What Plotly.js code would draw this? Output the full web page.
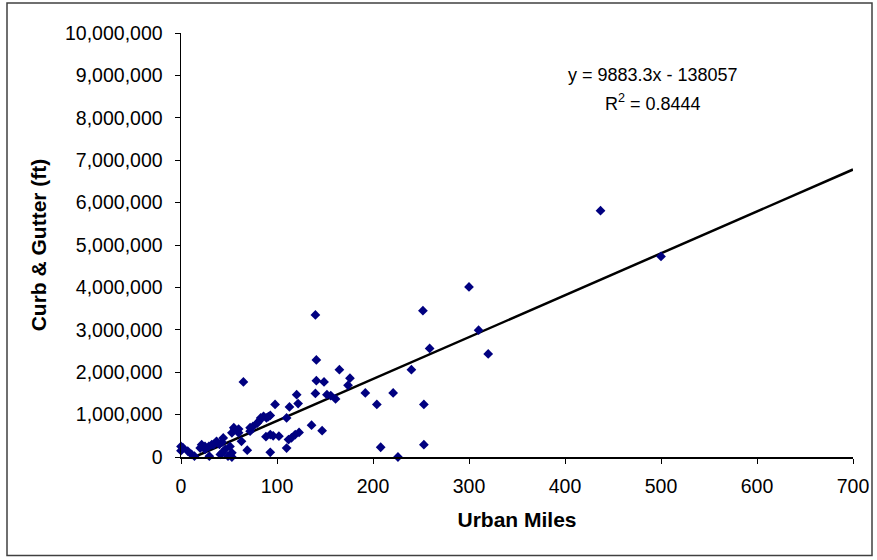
<!DOCTYPE html>
<html>
<head>
<meta charset="utf-8">
<script src="https://cdn.plot.ly/plotly-3.0.1.min.js"></script>
<style>
  html, body { margin: 0; padding: 0; background: #fff; }
  #chart { width: 877px; height: 560px; }
</style>
</head>
<body>
<div id="chart"></div>
<script>
// Urban miles (x) and Curb & Gutter in feet (y)
const urbanMiles = [
  0, 2, 0, 7, 11, 14, 20, 21.5, 25, 29.5,
  32, 37, 40, 44, 41, 46, 51, 49, 53, 53,
  56, 60, 63, 65, 69, 72, 75, 79.5, 83, 86,
  89, 93, 88.5, 93, 96, 102, 93, 98, 110, 113,
  120.5, 122, 110, 112, 115, 119, 123, 136, 147, 140,
  141, 165, 141, 149, 176, 174, 140, 152, 156, 161,
  192, 204, 221, 208, 226, 240, 252, 259, 253, 253,
  300, 310, 320, 437, 500,
  55, 60, 43, 53, 42.7, 29, 81, 72, 91, 25, 34
];
const curbGutterFt = [
  250000, 220000, 150000, 140000, 60000, 20000, 210000, 290000, 250000, 20000,
  290000, 370000, 300000, 450000, 60000, 180000, 250000, 20000, 0, 570000,
  650000, 660000, 370000, 1770000, 160000, 690000, 720000, 800000, 920000, 960000,
  920000, 980000, 480000, 530000, 500000, 490000, 110000, 1240000, 920000, 1180000,
  1470000, 1260000, 210000, 410000, 450000, 530000, 580000, 750000, 620000, 3350000,
  2290000, 2060000, 1800000, 1770000, 1860000, 1690000, 1500000, 1470000, 1450000, 1370000,
  1510000, 1240000, 1510000, 230000, 0, 2060000, 3450000, 2560000, 1240000, 290000,
  4010000, 2990000, 2430000, 5810000, 4730000,
  690000, 570000, 100000, 100000, 350000, 250000, 840000, 610000, 950000, 180000, 290000
];
// Linear trend shown on the chart
const trendSlope = 9883.3;
const trendIntercept = -138057;
const trendXStart = -trendIntercept / trendSlope;
const trendXEnd = 700;
const trendLabel = "y = 9883.3x - 138057";
const r2Label = "R<sup>2</sup> = 0.8444";

const xTitle = "Urban Miles";
const yTitle = "Curb & Gutter (ft)";

const trendX = [trendXStart, trendXEnd];
const trendY = trendX.map(v => trendSlope * v + trendIntercept);

const font = "Arial, 'Liberation Sans', sans-serif";

const data = [
  {
    type: "scatter", mode: "lines",
    x: trendX, y: trendY,
    line: { color: "#000000", width: 2.5 },
    hoverinfo: "skip", showlegend: false, cliponaxis: false
  },
  {
    type: "scatter", mode: "markers",
    x: urbanMiles, y: curbGutterFt,
    marker: { symbol: "diamond", size: 7.5, color: "#000080", line: { width: 0 } },
    showlegend: false, cliponaxis: false
  }
];

const layout = {
  width: 877, height: 560,
  margin: { l: 181, r: 24, t: 33, b: 102.5 },
  paper_bgcolor: "#ffffff", plot_bgcolor: "#ffffff",
  font: { family: font, size: 18, color: "#000000" },
  showlegend: false,
  xaxis: {
    range: [0, 700], dtick: 100, tick0: 0,
    showgrid: false, zeroline: false,
    showline: true, linecolor: "#000000", linewidth: 1.5,
    ticks: "outside", ticklen: 5, tickcolor: "#000000", tickwidth: 1,
    tickfont: { family: font, size: 19.5, color: "#000000" },
    ticklabelstandoff: 6,
    title: { text: "<b>" + xTitle + "</b>", font: { family: font, size: 21, color: "#000000" }, standoff: 16 }
  },
  yaxis: {
    range: [0, 10000000], dtick: 1000000, tick0: 0,
    tickformat: ",d",
    showgrid: false, zeroline: false,
    showline: true, linecolor: "#000000", linewidth: 1.5,
    ticks: "outside", ticklen: 5, tickcolor: "#000000", tickwidth: 1,
    tickfont: { family: font, size: 19.5, color: "#000000" },
    ticklabelstandoff: 8,
    title: { text: "<b>" + yTitle + "</b>", font: { family: font, size: 21, color: "#000000" }, standoff: 12 }
  },
  annotations: [
    { xref: "x", yref: "y", x: 492, y: 9020000, text: trendLabel, showarrow: false,
      font: { family: font, size: 18, color: "#000000" }, xanchor: "center", yanchor: "middle" },
    { xref: "x", yref: "y", x: 492, y: 8360000, text: r2Label, showarrow: false,
      font: { family: font, size: 18, color: "#000000" }, xanchor: "center", yanchor: "middle" }
  ],
  shapes: [
    { type: "rect", xref: "paper", yref: "paper",
      x0: (7 - 181) / 672, x1: (872 - 181) / 672,
      y0: (457.5 - 556) / 424.5, y1: (457.5 - 3) / 424.5,
      line: { color: "#404040", width: 1.5 }, fillcolor: "rgba(0,0,0,0)", layer: "below" }
  ]
};

Plotly.newPlot("chart", data, layout, { displayModeBar: false, staticPlot: true });
</script>
</body>
</html>
